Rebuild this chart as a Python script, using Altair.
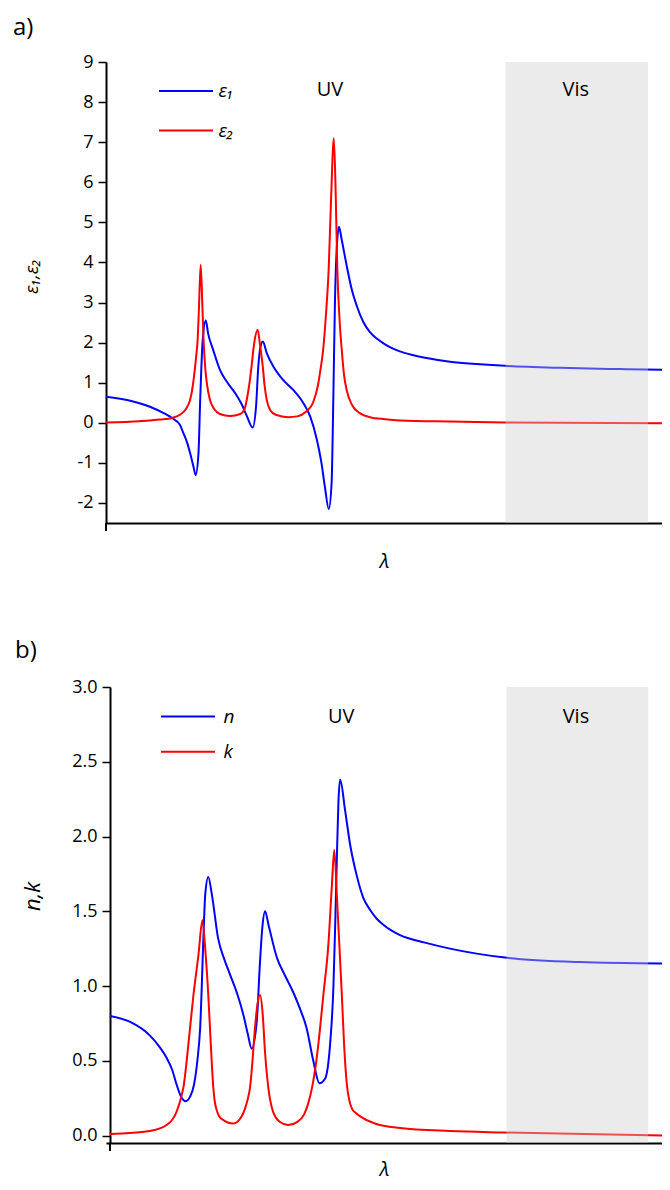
import altair as alt
import pandas as pd

# ---------------- panel a: dielectric function ----------------
e1_x = [0.0, 4.3, 7.8, 10.5, 11.7, 13.1, 13.7, 14.4, 14.9, 15.5, 15.9, 16.4, 16.7, 17.15,
        17.7, 18.1, 19.0, 20.2, 21.4, 22.9, 24.1, 25.0, 26.0, 26.6, 27.0, 27.4, 27.8, 28.5,
        29.7, 31.4, 33.2, 35.0, 36.2, 37.4, 38.2, 38.8, 39.5, 40.0, 40.3, 40.6, 41.0, 41.3,
        41.8, 42.7, 43.6, 44.5, 45.6, 46.8, 48.0, 49.2, 50.7, 52.1, 54.3, 56.6, 61.0, 66.3,
        70.7, 80.5, 91.1, 100.0]
e1_y = [0.65, 0.55, 0.40, 0.22, 0.12, -0.05, -0.25, -0.50, -0.75, -1.09, -1.30, -0.75, 0.57, 2.07,
        2.55, 2.23, 1.82, 1.32, 1.03, 0.74, 0.45, 0.16, -0.12, 0.40, 1.40, 1.90, 2.03, 1.74,
        1.40, 1.07, 0.82, 0.49, 0.16, -0.43, -1.00, -1.59, -2.15, -1.50, 0.57, 3.07, 4.56, 4.89,
        4.56, 3.90, 3.31, 2.90, 2.52, 2.26, 2.10, 1.98, 1.86, 1.78, 1.69, 1.62, 1.52, 1.46,
        1.42, 1.37, 1.34, 1.32]

e2_x = [0.0, 6.0, 9.6, 11.7, 13.1, 14.2, 14.9, 15.25, 15.6, 15.96, 16.26, 16.49, 16.79, 17.07,
        17.29, 17.55, 17.82, 18.09, 18.44, 19.15, 20.2, 22.0, 23.8, 24.5, 24.95, 25.4, 25.8,
        26.24, 26.9, 27.3, 27.8, 28.1, 28.5, 29.1, 30.1, 32.3, 33.9, 35.5, 36.7, 37.6, 38.0,
        38.5, 39.0, 39.5, 39.9, 40.4, 40.75, 41.0, 41.4, 41.8, 42.2, 42.7, 43.6, 45.0, 46.8,
        49.5, 52.1, 61.0, 70.7, 100.0]
e2_y = [0.01, 0.04, 0.08, 0.12, 0.20, 0.35, 0.57, 0.80, 1.15, 1.62, 2.10, 2.90, 3.94, 3.00,
        2.10, 1.45, 1.05, 0.80, 0.57, 0.35, 0.22, 0.17, 0.22, 0.32, 0.57, 0.95, 1.40,
        1.95, 2.32, 1.95, 1.40, 0.95, 0.57, 0.32, 0.20, 0.14, 0.16, 0.28, 0.50, 0.95, 1.30,
        1.82, 2.70, 3.90, 5.56, 7.10, 5.56, 3.90, 2.60, 1.82, 1.20, 0.80, 0.45, 0.24, 0.14,
        0.09, 0.06, 0.03, 0.01, -0.01]

# ---------------- panel b: optical constants ----------------
n_x = [0.0, 3.6, 7.1, 8.9, 10.1, 11.1, 11.9, 12.7, 13.5, 14.3, 15.0, 15.6, 16.1, 16.7,
       17.0, 17.55, 18.2, 19.3, 20.4, 21.4, 22.7, 23.8, 24.6, 25.3, 26.2, 26.8, 27.2, 27.7,
       28.3, 29.8, 31.25, 32.7, 33.9, 35.1, 36.3, 37.4, 38.4, 39.3, 39.9, 40.2, 40.5, 40.8,
       41.1, 42.0, 42.86, 44.05, 45.23, 46.43, 47.63, 48.8, 50.3, 51.79, 56.25, 60.71, 70.54,
       83.93, 100.0]
n_y = [0.80, 0.76, 0.67, 0.59, 0.52, 0.44, 0.34, 0.26, 0.23, 0.26, 0.34, 0.50, 0.72, 1.34,
       1.61, 1.73, 1.61, 1.32, 1.18, 1.08, 0.95, 0.81, 0.68, 0.58, 0.76, 1.17, 1.39, 1.50,
       1.41, 1.19, 1.07, 0.96, 0.85, 0.72, 0.50, 0.35, 0.38, 0.61, 1.00, 1.39, 1.84, 2.24,
       2.38, 2.17, 1.95, 1.74, 1.59, 1.51, 1.45, 1.41, 1.37, 1.34, 1.29, 1.25, 1.19,
       1.16, 1.15]

k_x = [0.0, 7.1, 10.1, 11.9, 12.8, 13.1, 14.0, 14.9, 15.8, 16.5, 17.0, 17.55, 18.0, 18.45,
       18.66, 19.05, 19.46, 20.36, 22.02, 23.39, 24.11, 24.64, 25.0, 25.36, 25.89, 26.3,
       26.79, 27.27, 27.68, 28.27, 29.11, 30.36, 31.79, 33.39, 34.64, 35.36, 36.13, 36.7,
       37.2, 38.1, 39.0, 39.6, 40.05, 40.5, 40.8, 41.4, 41.8, 42.3, 42.7, 43.2, 43.9, 44.6,
       47.3, 51.8, 60.7, 70.5, 100.0]
k_y = [0.01, 0.03, 0.07, 0.16, 0.27, 0.32, 0.61, 0.94, 1.21, 1.44, 1.25, 0.94, 0.61, 0.32,
       0.24, 0.17, 0.13, 0.10, 0.08, 0.12, 0.18, 0.25, 0.32, 0.46, 0.72, 0.87,
       0.94, 0.81, 0.56, 0.32, 0.16, 0.09, 0.07, 0.09, 0.14, 0.21, 0.33, 0.46,
       0.61, 0.94, 1.28, 1.66, 1.91, 1.61, 1.39, 0.94, 0.61, 0.34, 0.24, 0.18, 0.15, 0.13,
       0.08, 0.05, 0.03, 0.02, 0.00]

# regions / annotations
vis_start, vis_end = 70.8, 96.1
ann_labels = ["UV", "Vis"]
ann_x_a = [39.7, 83.3]
ann_y_a = [8.3, 8.3]
ann_x_b = [41.3, 83.2]
ann_y_b = [2.8, 2.8]

a_ticks = [-2, -1, 0, 1, 2, 3, 4, 5, 6, 7, 8, 9]
b_ticks = [0.0, 0.5, 1.0, 1.5, 2.0, 2.5, 3.0]

FONT = "Open Sans"


def long_df(xa, ya, name_a, xb, yb, name_b):
    return pd.concat([
        pd.DataFrame({"x": xa, "y": ya, "s": name_a}),
        pd.DataFrame({"x": xb, "y": yb, "s": name_b}),
    ], ignore_index=True)


def panel(df, names, field, xdom, ydom, yticks, ylabexpr, w, h, label, lab_dx, lab_dy,
          ytitle, ytsize, ytx, yty, yoff, leg_x, leg_y, leg_rowpad, leg_loff, ann_x, ann_y,
          xtpad):
    xs = alt.Scale(domain=xdom, nice=False, zero=False)
    ys = alt.Scale(domain=ydom, nice=False, zero=False)
    xaxis = alt.Axis(labels=False, ticks=False, grid=False, domainColor="black",
                     domainWidth=2, title="λ", titleFont=FONT, titleFontSize=20,
                     titleFontStyle="italic", titleFontWeight="normal",
                     titleColor="black", titlePadding=xtpad)
    yaxis = alt.Axis(values=yticks, labelExpr=ylabexpr, grid=False, domainColor="black",
                     domainWidth=2, tickColor="black", tickWidth=1.5, tickSize=8,
                     labelFont=FONT, labelFontSize=18, labelColor="black",
                     labelPadding=5, title=ytitle, titleFont=FONT, titleFontSize=ytsize,
                     titleFontStyle="italic", titleFontWeight="normal", titleColor="black",
                     titleAngle=270, titleX=ytx, titleY=yty, titleAlign="center",
                     titleBaseline="middle", offset=yoff)
    lines = alt.Chart(df).mark_line(strokeWidth=2, interpolate="monotone", clip=True).encode(
        x=alt.X("x:Q", scale=xs, axis=xaxis),
        y=alt.Y("y:Q", scale=ys, axis=yaxis),
        color=alt.Color(f"{field}:N",
                        scale=alt.Scale(domain=names, range=["#0000ff", "#ff0000"]),
                        legend=alt.Legend(title=None, orient="none", legendX=leg_x,
                                          legendY=leg_y, symbolType="M-2,0H2",
                                          symbolSize=729, symbolStrokeWidth=2,
                                          labelFont=FONT, labelFontSize=19,
                                          labelFontStyle="italic", labelColor="black",
                                          labelOffset=leg_loff, rowPadding=leg_rowpad,
                                          padding=0)),
        detail=f"{field}:N",
    )
    rect_df = pd.DataFrame({"x0": [vis_start], "x1": [vis_end], "lab": [label]})
    rect = alt.Chart(rect_df).mark_rect(color="#cccccc", opacity=0.4).encode(
        x=alt.X("x0:Q", scale=xs), x2="x1:Q", y=alt.value(0), y2=alt.value(h))
    ann_df = pd.DataFrame({"t": ann_labels, "x": ann_x, "y": ann_y})
    ann = alt.Chart(ann_df).mark_text(font=FONT, fontSize=20, color="black",
                                      align="center", baseline="middle").encode(
        x=alt.X("x:Q", scale=xs), y=alt.Y("y:Q", scale=ys), text="t:N")
    stub = alt.Chart(rect_df).mark_rule(color="black", strokeWidth=2).encode(
        x=alt.value(-yoff), y=alt.value(h), y2=alt.value(h + 8))
    tag = alt.Chart(rect_df).mark_text(font=FONT, fontSize=24, color="black",
                                       align="left", baseline="middle").encode(
        x=alt.value(lab_dx), y=alt.value(lab_dy), text="lab:N")
    return alt.layer(lines, rect, ann, stub, tag).properties(width=w, height=h)


df_a = long_df(e1_x, e1_y, "ε₁", e2_x, e2_y, "ε₂").rename(columns={"s": "sa"})
df_b = long_df(n_x, n_y, "n", k_x, k_y, "k").rename(columns={"s": "sb"})

pa = panel(df_a, ["ε₁", "ε₂"], "sa", [0, 98.58], [-2.5, 9], a_ticks, "'' + datum.value",
           556, 461, "a)", -93, -34, "ε₁,ε₂", 19, -74.4, 214, 0,
           65.5, 14.5, 14.6, 18, ann_x_a, ann_y_a, 28)
pb = panel(df_b, ["n", "k"], "sb", [-0.714, 98.57], [-0.05, 3.0], b_ticks,
           "format(datum.value, '.1f')", 556, 456, "b)", -91, -35.7, "n,k", 22, -77.4, 209, -4,
           67.5, 15.1, 10.2, 21, ann_x_b, ann_y_b, 16)

chart = alt.concat(pa, pb, columns=1, spacing=68).properties(
    padding={"left": 5, "top": 8, "right": 0, "bottom": 3},
    background="white",
).resolve_scale(color="independent").configure_view(stroke=None)

chart.save("out.html", embed_options={"renderer": "svg", "actions": False})
